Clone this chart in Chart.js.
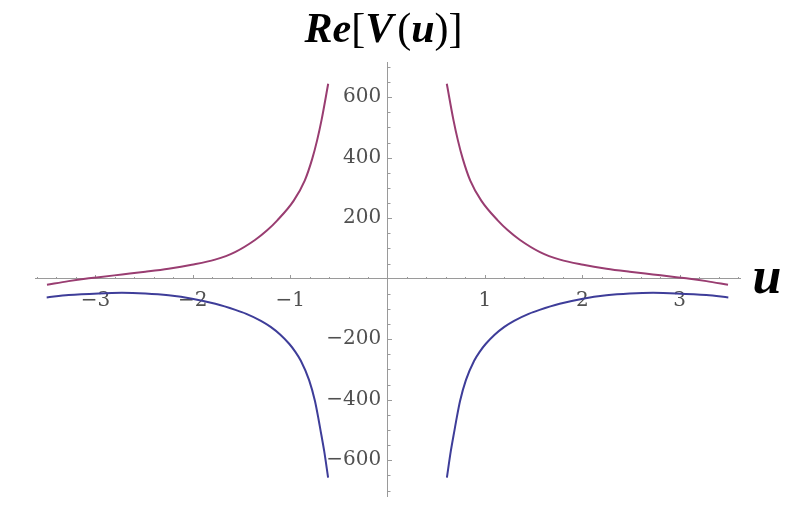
<!DOCTYPE html>
<html>
<head>
<meta charset="utf-8">
<script src="https://cdn.jsdelivr.net/npm/chart.js@4/dist/chart.umd.min.js"></script>
<style>
  html, body { margin: 0; padding: 0; background: #ffffff; }
  #wrap { width: 795px; height: 513px; }
</style>
</head>
<body>
<div id="wrap"><canvas id="c" width="795" height="513"></canvas></div>
<script>
// ---- data ----
const uMagentaRight = [0.609, 0.678, 0.723, 0.774, 0.85, 0.963, 1.134, 1.236, 1.361, 1.566, 1.771, 2.01, 2.249, 2.487, 2.726, 2.965, 3.104, 3.275, 3.497];
const vMagentaRight = [644, 523, 457, 395, 324, 258, 192, 160, 128, 88, 63, 46, 33, 23, 14, 5, 0, -8, -20];
const uMagentaLeft  = [-3.497, -3.275, -3.104, -2.965, -2.726, -2.487, -2.249, -2.01, -1.771, -1.566, -1.361, -1.236, -1.134, -0.963, -0.85, -0.774, -0.723, -0.678, -0.609];
const vMagentaLeft  = [-20, -8, 0, 5, 14, 23, 33, 46, 63, 88, 128, 160, 192, 258, 324, 395, 457, 523, 644];

const uBlueRight = [0.61, 0.65, 0.69, 0.705, 0.745, 0.805, 0.89, 0.95, 1.01, 1.1, 1.2, 1.3, 1.45, 1.562, 1.768, 2.007, 2.248, 2.487, 2.727, 2.967, 3.275, 3.5];
const vBlueRight = [-657, -570, -497, -470, -404, -335, -271, -240, -215, -185, -159, -139, -116, -103, -83, -66, -55, -49, -46.5, -48.5, -54, -62];
const uBlueLeft  = [-3.5, -3.275, -2.967, -2.727, -2.487, -2.248, -2.007, -1.768, -1.562, -1.45, -1.3, -1.2, -1.1, -1.01, -0.95, -0.89, -0.805, -0.745, -0.705, -0.69, -0.65, -0.61];
const vBlueLeft  = [-62, -54, -48.5, -46.5, -49, -55, -66, -83, -103, -116, -139, -159, -185, -215, -240, -271, -335, -404, -470, -497, -570, -657];

const xTickValues = [-3, -2, -1, 1, 2, 3];
const xTickLabels = ['\u22123', '\u22122', '\u22121', '1', '2', '3'];
const yTickValues = [-600, -400, -200, 200, 400, 600];
const yTickLabels = ['\u2212600', '\u2212400', '\u2212200', '200', '400', '600'];

const titleParts = [['Re', true], ['[', false], ['V', true], ['(', false], ['u', true], [')', false], [']', false]];
const xAxisName = 'u';

// ---- styling ----
const MAGENTA = '#993d71';
const BLUE = '#3e3d99';
const AXIS = '#9a9a9a';
const TICKTXT = '#505050';

function pts(us, vs) { return us.map((u, i) => ({ x: u, y: vs[i] })); }
function lineDs(data, color) {
  return {
    data, borderColor: color, borderWidth: 2, pointRadius: 0, fill: false,
    showLine: true, cubicInterpolationMode: 'monotone', clip: false
  };
}

const decor = {
  id: 'decor',
  beforeDatasetsDraw(chart) {
    const { ctx, scales: { x, y } } = chart;
    const x0 = x.getPixelForValue(0), y0 = y.getPixelForValue(0);
    ctx.save();
    ctx.strokeStyle = AXIS;
    ctx.lineWidth = 1;
    // x ticks (minor every 0.2, major at integers), pointing up
    for (let k = -18; k <= 18; k++) {
      const v = k / 5;
      if (v < x.min || v > x.max || k === 0) continue;
      const px = Math.round(x.getPixelForValue(v)) + 0.5;
      const len = (k % 5 === 0) ? 4 : 2;
      ctx.beginPath(); ctx.moveTo(px, Math.round(y0)); ctx.lineTo(px, Math.round(y0) - len); ctx.stroke();
    }
    // y ticks (minor every 50, major every 200), pointing right
    for (let k = -14; k <= 14; k++) {
      const v = k * 50;
      if (v < y.min || v > y.max || k === 0) continue;
      const py = Math.round(y.getPixelForValue(v)) + 0.5;
      const len = (k % 4 === 0) ? 4 : 2.5;
      ctx.beginPath(); ctx.moveTo(Math.round(x0), py); ctx.lineTo(Math.round(x0) + len, py); ctx.stroke();
    }
    ctx.restore();
  },
  afterDraw(chart) {
    const { ctx } = chart;
    ctx.save();
    // title with mixed styles
    const size = 42;
    const bold = 'italic bold ' + size + 'px "Liberation Serif", "Times New Roman", serif';
    const reg = size + 'px "Liberation Serif", "Times New Roman", serif';
    let total = 0;
    const widths = titleParts.map(([t, b]) => {
      ctx.font = b ? bold : reg;
      let w = ctx.measureText(t).width;
      if (t === 'V') w += 4;
      total += w;
      return w;
    });
    let cx = 383.5 - total / 2;
    ctx.fillStyle = '#000';
    ctx.textBaseline = 'alphabetic';
    ctx.textAlign = 'left';
    titleParts.forEach(([t, b], i) => {
      ctx.font = b ? bold : reg;
      ctx.fillText(t, cx, 42);
      cx += widths[i];
    });
    // axis name
    ctx.font = 'italic bold 52px "Liberation Serif", "Times New Roman", serif';
    ctx.textAlign = 'center';
    ctx.fillText(xAxisName, 767, 293);
    ctx.restore();
  }
};

new Chart(document.getElementById('c'), {
  type: 'scatter',
  data: {
    datasets: [
      lineDs(pts(uMagentaLeft, vMagentaLeft), MAGENTA),
      lineDs(pts(uMagentaRight, vMagentaRight), MAGENTA),
      lineDs(pts(uBlueLeft, vBlueLeft), BLUE),
      lineDs(pts(uBlueRight, vBlueRight), BLUE)
    ]
  },
  options: {
    responsive: false,
    animation: false,
    devicePixelRatio: 1,
    layout: { padding: { left: 35, right: 55, top: 62, bottom: 17 } },
    plugins: { legend: { display: false }, title: { display: false }, tooltip: { enabled: false } },
    scales: {
      x: {
        type: 'linear', min: -3.62, max: 3.62,
        position: { y: 0 },
        grid: { display: true, drawOnChartArea: false, drawTicks: false },
        border: { display: true, color: AXIS, width: 1 },
        afterBuildTicks: s => { s.ticks = xTickValues.map(v => ({ value: v })); },
        ticks: {
          autoSkip: false, maxRotation: 0, padding: 10, color: TICKTXT,
          font: { family: '"DejaVu Serif", serif', size: 20 },
          callback: (v) => { const i = xTickValues.indexOf(v); return i >= 0 ? xTickLabels[i] : ''; }
        }
      },
      y: {
        type: 'linear', min: -718, max: 716,
        position: { x: 0 },
        grid: { display: true, drawOnChartArea: false, drawTicks: false },
        border: { display: true, color: AXIS, width: 1 },
        afterBuildTicks: s => { s.ticks = yTickValues.map(v => ({ value: v })); },
        ticks: {
          autoSkip: false, padding: 0, color: TICKTXT,
          font: { family: '"DejaVu Serif", serif', size: 20 },
          callback: (v) => { const i = yTickValues.indexOf(v); return i >= 0 ? yTickLabels[i] + ' ' : ''; }
        }
      }
    }
  },
  plugins: [decor]
});
</script>
</body>
</html>
